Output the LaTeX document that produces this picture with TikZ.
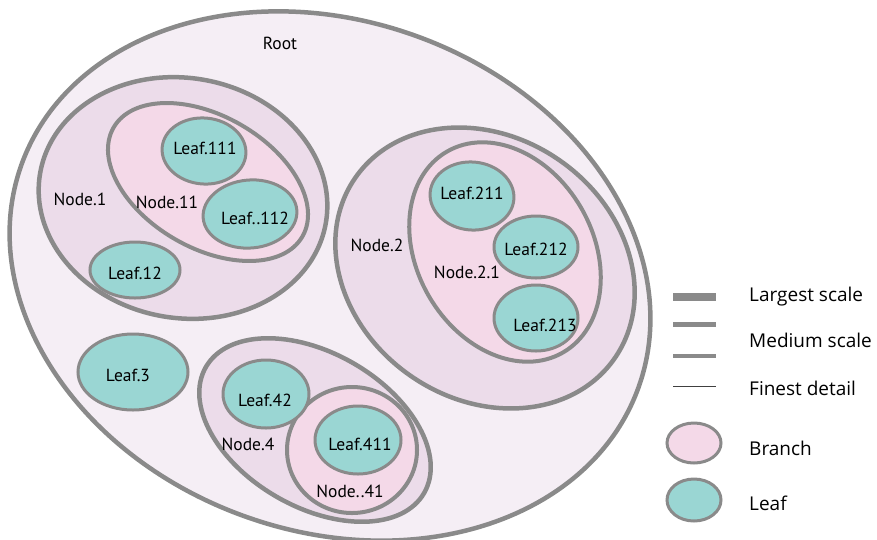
\documentclass[tikz,border=0pt]{standalone}
\usepackage{fontspec}
\setmainfont{PT Sans}
\newfontfamily\legendfont{Open Sans}
\definecolor{outl}{HTML}{8A8A8A}
\definecolor{rootfill}{HTML}{F5EEF5}
\definecolor{lvlone}{HTML}{ECDCEA}
\definecolor{lvltwo}{HTML}{F4D9E8}
\definecolor{leaffill}{HTML}{9AD6D3}
\tikzset{
  rootshape/.style={draw=outl, line width=4.5pt, fill=rootfill},
  branchone/.style={draw=outl, line width=4.5pt, fill=lvlone},
  branchtwo/.style={draw=outl, line width=4pt, fill=lvltwo},
  leafshape/.style={draw=outl, line width=3pt, fill=leaffill},
  lbl/.style={font=\fontsize{17.5}{20}\selectfont, inner sep=0pt, text=black},
  leglbl/.style={font=\legendfont\fontsize{19}{22}\selectfont, inner sep=0pt, anchor=west, text=black},
  legline/.style={draw=outl},
}
\begin{document}
\begin{tikzpicture}[x=1pt,y=-1pt]
\useasboundingbox (0,0) rectangle (877,539);
% root
\draw[rootshape, shift={(330,276)}, rotate=-20] (0,0) ellipse [x radius=328pt, y radius=255pt];
% level 1
\draw[branchone, shift={(183,198)}, rotate=-10] (0,0) ellipse [x radius=145pt, y radius=120pt];
\draw[branchone, shift={(485,268)}, rotate=-35] (0,0) ellipse [x radius=158pt, y radius=131pt];
\draw[branchone, shift={(315,430)}, rotate=-30] (0,0) ellipse [x radius=126pt, y radius=77pt];
% level 2
\draw[branchtwo, shift={(208,182)}, rotate=-30] (0,0) ellipse [x radius=109pt, y radius=66pt];
\draw[branchtwo, shift={(505,252)}, rotate=30] (0,0) ellipse [x radius=88pt, y radius=116pt];
\draw[branchtwo, shift={(352,450)}] (0,0) ellipse [x radius=65pt, y radius=63pt];
% leaves
\draw[leafshape, shift={(204,151)}, rotate=-5] (0,0) ellipse [x radius=42pt, y radius=33pt];
\draw[leafshape, shift={(250,214)}, rotate=5] (0,0) ellipse [x radius=47pt, y radius=34pt];
\draw[leafshape, shift={(135,270)}] (0,0) ellipse [x radius=45pt, y radius=28pt];
\draw[leafshape, shift={(472,196)}, rotate=-5] (0,0) ellipse [x radius=42pt, y radius=34pt];
\draw[leafshape, shift={(536,247)}] (0,0) ellipse [x radius=42pt, y radius=31pt];
\draw[leafshape, shift={(536,318)}] (0,0) ellipse [x radius=42pt, y radius=33pt];
\draw[leafshape, shift={(133,372)}] (0,0) ellipse [x radius=55pt, y radius=38pt];
\draw[leafshape, shift={(266,394)}] (0,0) ellipse [x radius=43pt, y radius=34pt];
\draw[leafshape, shift={(358,440)}] (0,0) ellipse [x radius=43pt, y radius=34pt];
% labels
\node[lbl] (root) at (280,43) {Root};
\node[lbl] (n1) at (80,199) {Node.1};
\node[lbl] (n11) at (167,202) {Node.11};
\node[lbl] (l111) at (205,148) {Leaf.111};
\node[lbl] (l112) at (255,218) {Leaf..112};
\node[lbl] (l12) at (135,273) {Leaf.12};
\node[lbl] (n2) at (377,245) {Node.2};
\node[lbl] (n21) at (467,272) {Node.2.1};
\node[lbl] (l211) at (472,193) {Leaf.211};
\node[lbl] (l212) at (536,249) {Leaf.212};
\node[lbl] (l213) at (545,325) {Leaf.213};
\node[lbl] (l3) at (128,375) {Leaf.3};
\node[lbl] (n4) at (248,444) {Node.4};
\node[lbl] (l42) at (265,400) {Leaf.42};
\node[lbl] (l411) at (360,444) {Leaf.411};
\node[lbl] (n41) at (350,491) {Node..41};
% legend
\coordinate (a1) at (673,297); \coordinate (b1) at (716,297);
\coordinate (a2) at (673,324); \coordinate (b2) at (716,324);
\coordinate (a3) at (673,356); \coordinate (b3) at (716,356);
\coordinate (a4) at (673,386); \coordinate (b4) at (716,386);
\draw[legline, line width=8pt] (a1) -- (b1);
\draw[legline, line width=5pt] (a2) -- (b2);
\draw[legline, line width=4.5pt] (a3) -- (b3);
\draw[draw=black!75, line width=1pt] (a4) -- (b4);
\draw[branchtwo, line width=3pt, shift={(694,443)}] (0,0) ellipse [x radius=27pt, y radius=20pt];
\draw[leafshape, shift={(694,500)}] (0,0) ellipse [x radius=27pt, y radius=21pt];
\node[leglbl] (t1) at (749,297) {Largest scale};
\node[leglbl] (t2) at (749,340) {Medium scale};
\node[leglbl] (t3) at (749,388) {Finest detail};
\node[leglbl] (t4) at (749,448) {Branch};
\node[leglbl] (t5) at (749,503) {Leaf};
\end{tikzpicture}
\end{document}
